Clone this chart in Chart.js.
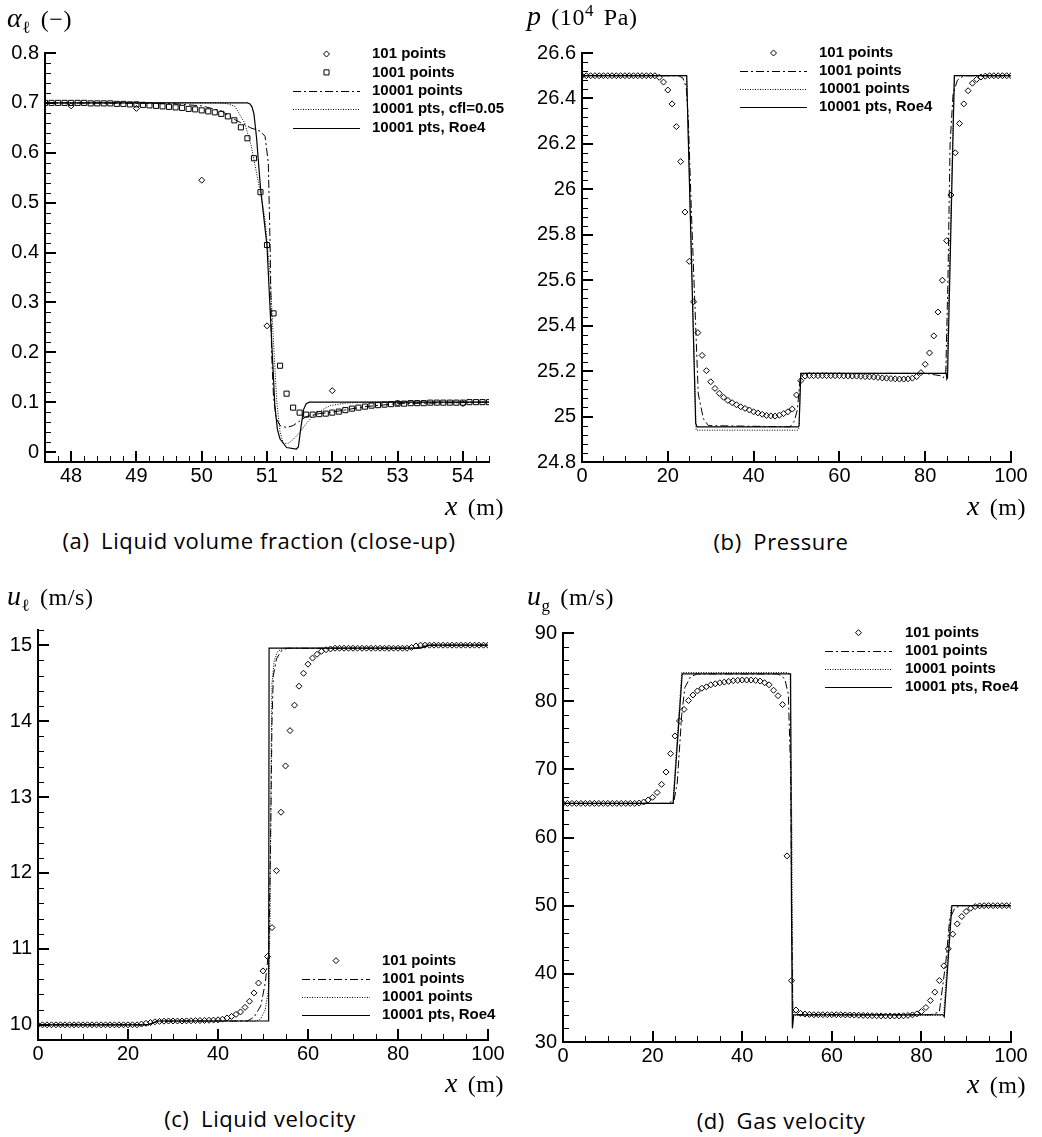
<!DOCTYPE html>
<html>
<head>
<meta charset="utf-8">
<script src="https://cdn.jsdelivr.net/npm/chart.js@4.4.1/dist/chart.umd.min.js"></script>
<style>
  body { margin: 0; background: #fff; width: 1042px; height: 1137px; position: relative; overflow: hidden; }
  canvas { position: absolute; }
  .t { position: absolute; white-space: nowrap; color: #000; line-height: 1; }
  .m { font-family: "Liberation Serif", "DejaVu Serif", serif; font-size: 24px; letter-spacing: 0.6px; word-spacing: 3px; }
  .m .v { font-style: italic; font-size: 28px; line-height: 0; }
  .m sub, .m sup { font-size: 17px; line-height: 0; }
  .cap { font-family: "Open Sans", "Noto Sans", sans-serif; font-size: 22px; letter-spacing: 0.6px; width: 500px; text-align: center; }
  #note { position: absolute; left: 640px; top: 150px; font: 11px monospace; color: #c00; white-space: pre; }
</style>
</head>
<body>
<canvas id="chartA" width="521" height="500" style="left:0;top:0"></canvas>
<canvas id="chartB" width="521" height="500" style="left:521px;top:0"></canvas>
<canvas id="chartC" width="521" height="500" style="left:0;top:580px"></canvas>
<canvas id="chartD" width="521" height="500" style="left:521px;top:580px"></canvas>
<div id="note"></div>

<div class="t m" style="left:7px;top:7px"><span class="v">α</span><sub>ℓ</sub> (−)</div>
<div class="t m" style="left:527px;top:5px"><span class="v">p</span> (10<sup>4</sup> Pa)</div>
<div class="t m" style="left:7px;top:585px"><span class="v">u</span><sub>ℓ</sub> (m/s)</div>
<div class="t m" style="left:527px;top:585px"><span class="v">u</span><sub>g</sub> (m/s)</div>

<div class="t m" style="left:445px;top:495px"><span class="v">x</span> (m)</div>
<div class="t m" style="left:967px;top:495px"><span class="v">x</span> (m)</div>
<div class="t m" style="left:445px;top:1072px"><span class="v">x</span> (m)</div>
<div class="t m" style="left:967px;top:1073px"><span class="v">x</span> (m)</div>

<div class="t cap" style="left:9px;top:529px">(a)&ensp;Liquid volume fraction (close-up)</div>
<div class="t cap" style="left:531px;top:530px">(b)&ensp;Pressure</div>
<div class="t cap" style="left:10px;top:1107px">(c)&ensp;Liquid velocity</div>
<div class="t cap" style="left:531px;top:1109px">(d)&ensp;Gas velocity</div>

<script>
// ---- shared x grid for the 101-point runs ----
const x101 = [0,1,2,3,4,5,6,7,8,9,10,11,12,13,14,15,16,17,18,19,20,21,22,23,24,25,26,27,28,29,30,31,32,33,34,35,36,37,38,39,40,41,42,43,44,45,46,47,48,49,50,51,52,53,54,55,56,57,58,59,60,61,62,63,64,65,66,67,68,69,70,71,72,73,74,75,76,77,78,79,80,81,82,83,84,85,86,87,88,89,90,91,92,93,94,95,96,97,98,99,100];

// ---- (a) liquid volume fraction, close-up ----
const aX101 = [48, 49, 50, 51, 52, 53, 54];
const aY101 = [0.694, 0.689, 0.545, 0.253, 0.123, 0.098, 0.097];
const aX1001 = [47.6,47.7,47.8,47.9,48.0,48.1,48.2,48.3,48.4,48.5,48.6,48.7,48.8,48.9,49.0,49.1,49.2,49.3,49.4,49.5,49.6,49.7,49.8,49.9,50.0,50.1,50.2,50.3,50.4,50.5,50.6,50.7,50.8,50.9,51.0,51.1,51.2,51.3,51.4,51.5,51.6,51.7,51.8,51.9,52.0,52.1,52.2,52.3,52.4,52.5,52.6,52.7,52.8,52.9,53.0,53.1,53.2,53.3,53.4,53.5,53.6,53.7,53.8,53.9,54.0,54.1,54.2,54.3,54.4];
const aY1001 = [0.700,0.700,0.700,0.700,
  0.700,0.700,0.700,0.699,0.699,0.699,0.699,0.698,0.698,0.697,
  0.697,0.696,0.695,0.694,0.693,0.692,0.691,0.690,0.688,0.687,
  0.685,0.683,0.681,0.678,0.673,0.665,0.651,0.629,0.589,0.521,
  0.415,0.278,0.173,0.117,0.089,0.079,0.075,0.075,0.076,0.077,
  0.079,0.081,0.084,0.087,0.089,0.091,0.093,0.094,0.095,0.096,
  0.097,0.097,0.098,0.098,0.098,0.099,0.099,0.099,0.099,0.099,
  0.099,0.100,0.100,0.100,0.100];
const aFineX = [47.6, 49.5, 50.0, 50.3, 50.5, 50.6, 50.75, 50.9, 50.97, 51.02, 51.05, 51.07, 51.1, 51.14, 51.2, 51.3, 51.4, 51.5, 51.6, 51.8, 52.0, 52.5, 53.0, 54.4];
const aFineY = [0.700, 0.699, 0.694, 0.684, 0.667, 0.660, 0.650, 0.643, 0.633, 0.580, 0.400, 0.200, 0.110, 0.068, 0.053, 0.049, 0.053, 0.062, 0.071, 0.077, 0.080, 0.091, 0.097, 0.100];
const aCflX = [47.6, 50.3, 50.4, 50.51, 50.66, 50.76, 50.84, 50.92, 50.97, 51.05, 51.1, 51.15, 51.2, 51.25, 51.32, 51.4, 51.5, 51.6, 51.71, 51.85, 51.97, 52.2, 52.5, 54.4];
const aCflY = [0.700, 0.700, 0.698, 0.693, 0.659, 0.613, 0.559, 0.506, 0.466, 0.350, 0.220, 0.100, 0.040, 0.018, 0.017, 0.025, 0.039, 0.057, 0.073, 0.085, 0.093, 0.098, 0.100, 0.100];
const aRoeX = [47.6, 50.70, 50.74, 50.77, 50.80, 50.84, 50.9, 51.0, 51.07, 51.12, 51.16, 51.2, 51.3, 51.45, 51.48, 51.52, 51.56, 51.6, 51.65, 54.4];
const aRoeY = [0.700, 0.700, 0.698, 0.692, 0.678, 0.630, 0.530, 0.413, 0.226, 0.093, 0.045, 0.026, 0.009, 0.006, 0.010, 0.050, 0.085, 0.097, 0.100, 0.100];
const aXTicks = [48, 49, 50, 51, 52, 53, 54];
const aYTicks = [0, 0.1, 0.2, 0.3, 0.4, 0.5, 0.6, 0.7, 0.8];

// ---- (b) pressure, 10^4 Pa ----
const bP101 = [26.5,26.5,26.5,26.5,26.5,26.5,26.5,26.5,26.5,26.5,
  26.5,26.5,26.5,26.5,26.5,26.5,26.5,26.5,26.493,26.472,
  26.437,26.376,26.276,26.122,25.900,25.683,25.505,25.369,25.269,25.202,
  25.153,25.124,25.102,25.085,25.071,25.061,25.052,25.043,25.036,25.029,
  25.021,25.016,25.010,25.005,25.003,25.002,25.006,25.013,25.021,25.033,
  25.095,25.158,25.178,25.180,25.180,25.180,25.180,25.180,25.180,25.180,
  25.180,25.179,25.179,25.178,25.178,25.177,25.176,25.175,25.174,25.172,
  25.170,25.169,25.167,25.166,25.165,25.165,25.166,25.169,25.176,25.193,
  25.230,25.280,25.355,25.460,25.600,25.774,25.975,26.161,26.290,26.376,
  26.434,26.467,26.484,26.494,26.498,26.5,26.5,26.5,26.5,26.5,
  26.5];
const b1001X = [0, 22.5, 23.5, 24.3, 24.8, 25.5, 26.5, 27.1, 28.3, 29.5, 48.5, 49.5, 50.2, 50.8, 51.3, 80, 83.5, 84.2, 84.8, 85.3, 85.8, 86.5, 87.5, 89, 100];
const b1001Y = [26.5, 26.5, 26.49, 26.45, 26.3, 25.9, 25.4, 25.1, 24.99, 24.96, 24.955, 24.98, 25.03, 25.16, 25.19, 25.19, 25.18, 25.17, 25.2, 25.6, 26.2, 26.42, 26.48, 26.5, 26.5];
const b10001X = [0, 24.4, 26.6, 50.3, 50.6, 51.0, 84.8, 85.0, 86.8, 100];
const b10001Y = [26.5, 26.5, 24.94, 24.94, 24.95, 25.19, 25.19, 25.18, 26.5, 26.5];
const bRoeX = [0, 24.4, 26.5, 26.8, 50.4, 50.6, 51.0, 84.9, 85.05, 85.2, 86.8, 100];
const bRoeY = [26.5, 26.5, 24.97, 24.955, 24.955, 24.96, 25.19, 25.19, 25.165, 25.17, 26.5, 26.5];
const bXTicks = [0, 20, 40, 60, 80, 100];
const bYTicks = [24.8, 25, 25.2, 25.4, 25.6, 25.8, 26, 26.2, 26.4, 26.6];

// ---- (c) liquid velocity, m/s ----
const cU101 = [10,10,10,10,10,10,10,10,10,10,
  10,10,10,10,10,10,10,10,10,10,
  10,10,10,10.01,10.02,10.03,10.04,10.045,10.048,10.05,
  10.05,10.05,10.05,10.052,10.053,10.055,10.056,10.058,10.06,10.063,
  10.066,10.074,10.09,10.11,10.137,10.17,10.23,10.31,10.42,10.55,
  10.71,10.90,11.28,12.03,12.80,13.41,13.875,14.21,14.46,14.63,
  14.75,14.83,14.88,14.92,14.94,14.95,14.96,14.96,14.96,14.96,
  14.96,14.96,14.96,14.96,14.96,14.96,14.96,14.96,14.96,14.96,
  14.96,14.96,14.96,14.97,14.99,15,15,15,15,15,
  15,15,15,15,15,15,15,15,15,15,
  15];
const c1001X = [0, 24, 27, 46.5, 48, 49.5, 50.5, 51.3, 51.7, 52.0, 52.3, 53, 54, 55.3, 84, 86, 88, 100];
const c1001Y = [10, 10, 10.05, 10.05, 10.1, 10.25, 10.55, 11.0, 12.5, 14.0, 14.6, 14.82, 14.92, 14.96, 14.96, 14.99, 15, 15];
const c10001X = [0, 24.5, 26.5, 48.5, 49.5, 50.5, 51.3, 51.6, 51.8, 52.0, 52.5, 53.3, 54.5, 85, 87, 100];
const c10001Y = [10, 10, 10.05, 10.05, 10.08, 10.2, 10.5, 11.5, 13.5, 14.5, 14.8, 14.92, 14.96, 14.96, 15, 15];
const cRoeX = [0, 24.5, 26.5, 51.25, 51.35, 85, 86.8, 100];
const cRoeY = [10, 10, 10.05, 10.05, 14.96, 14.96, 15, 15];
const cXTicks = [0, 20, 40, 60, 80, 100];
const cYTicks = [10, 11, 12, 13, 14, 15];

// ---- (d) gas velocity, m/s ----
const dU101 = [65,65,65,65,65,65,65,65,65,65,
  65,65,65,65,65,65,65,65.05,65.2,65.5,
  65.9,66.6,67.8,69.6,72.3,74.9,77.1,78.8,80.1,80.9,
  81.5,81.9,82.1,82.4,82.55,82.7,82.8,82.9,83.0,83.05,
  83.1,83.1,83.1,83.05,82.95,82.7,82.4,81.6,80.8,79.5,
  57.3,39.0,34.7,34.2,34.1,34.05,34.0,34.0,34.0,34.0,
  34.0,34.0,34.0,33.98,33.97,33.95,33.93,33.9,33.88,33.86,
  33.85,33.83,33.82,33.82,33.82,33.83,33.85,33.9,33.98,34.13,
  34.47,35.06,36.09,37.31,39.02,41.17,43.67,45.82,47.33,48.41,
  49.15,49.63,49.87,49.97,50,50,50,50,50,50,
  50];
const d1001X = [0, 23.5, 24.8, 25.5, 26.5, 27.2, 28.5, 30, 48, 49.5, 50.3, 50.8, 51.1, 51.3, 52, 82, 84, 85.5, 86.3, 87.5, 89, 100];
const d1001Y = [65, 65, 65.5, 68, 78, 82, 83.6, 84, 84, 83.3, 81, 70, 45, 34.5, 34, 34, 34.4, 42, 48, 49.7, 50, 50];
const d10001X = [0, 24.5, 26.5, 50, 50.7, 51.1, 51.3, 52, 84.5, 85, 86.6, 87, 100];
const d10001Y = [65, 65, 84.2, 84.2, 84, 60, 34, 33.9, 33.9, 34.3, 49.7, 50, 50];
const dRoeX = [0, 24.6, 26.6, 50.8, 51.0, 51.2, 51.5, 84.8, 85.1, 86.8, 100];
const dRoeY = [65, 65, 84, 84, 50, 32, 34, 34, 33.7, 50, 50];
const dXTicks = [0, 20, 40, 60, 80, 100];
const dYTicks = [30, 40, 50, 60, 70, 80, 90];

const tickFont = { family: '"Liberation Sans", Arial, sans-serif', size: 20 };
const DASHDOT = [8, 3, 2, 3];
const DOTTED = [1, 1.5];

function pairs(xs, ys) {
  return xs.map((x, i) => ({ x: x, y: ys[i] }));
}

function markers(label, xs, ys, style, r) {
  return {
    label: label, data: pairs(xs, ys), showLine: false,
    pointStyle: style, pointRadius: r, pointBorderWidth: 1,
    pointBorderColor: '#000', pointBackgroundColor: 'rgba(0,0,0,0)',
    borderColor: '#000', backgroundColor: 'rgba(0,0,0,0)'
  };
}

function curve(label, xs, ys, dash, w) {
  return {
    label: label, data: pairs(xs, ys), showLine: true, tension: 0,
    borderColor: '#000', borderWidth: w, borderDash: dash,
    pointRadius: 0, fill: false
  };
}

// legend rows: symbol or line sample, then bold label
const boxLegend = {
  id: 'boxLegend',
  afterDraw(chart, args, o) {
    const ctx = chart.ctx;
    ctx.save();
    ctx.font = 'bold 15px "Liberation Sans", Arial, sans-serif';
    ctx.textBaseline = 'middle';
    ctx.fillStyle = '#000';
    ctx.strokeStyle = '#000';
    chart.data.datasets.forEach((ds, i) => {
      const y = o.top + i * o.gap;
      const cx = (o.x0 + o.x1) / 2;
      if (ds.showLine) {
        ctx.lineWidth = ds.borderWidth;
        ctx.setLineDash(ds.borderDash || []);
        ctx.beginPath();
        ctx.moveTo(o.x0, Math.round(y) + 0.5);
        ctx.lineTo(o.x1, Math.round(y) + 0.5);
        ctx.stroke();
        ctx.setLineDash([]);
      } else {
        ctx.lineWidth = 1;
        ctx.beginPath();
        if (ds.pointStyle === 'rectRot') {
          const r = ds.pointRadius;
          ctx.moveTo(cx, y - r); ctx.lineTo(cx + r, y); ctx.lineTo(cx, y + r); ctx.lineTo(cx - r, y);
          ctx.closePath();
        } else {
          const h = ds.pointRadius * Math.SQRT1_2;
          ctx.rect(cx - h, y - h, 2 * h, 2 * h);
        }
        ctx.stroke();
      }
      ctx.fillText(ds.label, o.textX, y);
    });
    ctx.restore();
  }
};

// inward tick marks: 10 px majors at the labelled ticks, 5 px minors every step
function inwardTicks(minor) {
  return {
    id: 'inwardTicks',
    afterDraw(chart) {
      const ctx = chart.ctx;
      const a = chart.chartArea;
      const sx = chart.scales.x, sy = chart.scales.y;
      const bottom = Math.round(a.bottom), left = Math.round(a.left);
      ctx.save();
      ctx.fillStyle = '#000';
      for (let k = Math.ceil(sx.min / minor[0] - 1e-6); k <= Math.floor(sx.max / minor[0] + 1e-6); k++) {
        ctx.fillRect(Math.round(sx.getPixelForValue(k * minor[0])), bottom - 6, 1, 6);
      }
      for (let k = Math.ceil(sy.min / minor[1] - 1e-6); k <= Math.floor(sy.max / minor[1] + 1e-6); k++) {
        ctx.fillRect(left, Math.round(sy.getPixelForValue(k * minor[1])), 6, 1);
      }
      sx.ticks.forEach(t => ctx.fillRect(Math.round(sx.getPixelForValue(t.value)) - 1, bottom - 11, 2, 11));
      sy.ticks.forEach(t => ctx.fillRect(left, Math.round(sy.getPixelForValue(t.value)) - 1, 11, 2));
      ctx.restore();
    }
  };
}

function axis(range, majors, dir, size) {
  return {
    type: 'linear', min: range[0], max: range[1],
    grid: { display: false, drawTicks: false },
    border: { display: true, color: '#000', width: 2 },
    ticks: {
      color: '#000', font: tickFont, padding: dir === 'x' ? 2 : 6,
      autoSkip: false, maxRotation: 0, callback: v => String(v)
    },
    afterBuildTicks: s => { s.ticks = majors.map(v => ({ value: v })); },
    afterFit: s => { if (dir === 'x') s.height = size; else s.width = size; }
  };
}

const charts = [];
function panel(id, p) {
  const chart = new Chart(document.getElementById(id), {
    type: 'scatter',
    data: { datasets: p.datasets },
    plugins: [inwardTicks(p.minor), boxLegend],
    options: {
      responsive: false, animation: false, devicePixelRatio: 1, events: [],
      layout: { padding: p.pad },
      plugins: {
        legend: { display: false }, tooltip: { enabled: false },
        boxLegend: p.legend
      },
      scales: {
        x: axis(p.xRange, p.xTicks, 'x', 38),
        y: axis(p.yRange, p.yTicks, 'y', p.yw)
      }
    }
  });
  charts.push(chart);
  return chart;
}

panel('chartA', {
  datasets: [
    markers('101 points', aX101, aY101, 'rectRot', 3),
    markers('1001 points', aX1001, aY1001, 'rect', 3.6),
    curve('10001 points', aFineX, aFineY, DASHDOT, 1),
    curve('10001 pts, cfl=0.05', aCflX, aCflY, DOTTED, 1),
    curve('10001 pts, Roe4', aRoeX, aRoeY, [], 1.2)
  ],
  pad: { left: 0, top: 53, right: 32, bottom: 0 }, yw: 45,
  xRange: [47.6, 54.4], yRange: [-0.02, 0.8], xTicks: aXTicks, yTicks: aYTicks,
  minor: [0.2, 0.02],
  legend: { x0: 293, x1: 360, textX: 372, top: 54, gap: 18.4 }
});

panel('chartB', {
  datasets: [
    markers('101 points', x101, bP101, 'rectRot', 3),
    curve('1001 points', b1001X, b1001Y, DASHDOT, 1),
    curve('10001 points', b10001X, b10001Y, DOTTED, 1),
    curve('10001 pts, Roe4', bRoeX, bRoeY, [], 1.2)
  ],
  pad: { left: 0, top: 53, right: 31, bottom: 0 }, yw: 61,
  xRange: [0, 100], yRange: [24.8, 26.6], xTicks: bXTicks, yTicks: bYTicks,
  minor: [5, 0.04],
  legend: { x0: 219, x1: 286, textX: 298, top: 53, gap: 18 }
});

panel('chartC', {
  datasets: [
    markers('101 points', x101, cU101, 'rectRot', 3),
    curve('1001 points', c1001X, c1001Y, DASHDOT, 1),
    curve('10001 points', c10001X, c10001Y, DOTTED, 1),
    curve('10001 pts, Roe4', cRoeX, cRoeY, [], 1.2)
  ],
  pad: { left: 0, top: 50, right: 33, bottom: 2 }, yw: 38,
  xRange: [0, 100], yRange: [9.8, 15.2], xTicks: cXTicks, yTicks: cYTicks,
  minor: [5, 0.2],
  legend: { x0: 302, x1: 370, textX: 382, top: 380.7, gap: 18.1 }
});

panel('chartD', {
  datasets: [
    markers('101 points', x101, dU101, 'rectRot', 3),
    curve('1001 points', d1001X, d1001Y, DASHDOT, 1),
    curve('10001 points', d10001X, d10001Y, DOTTED, 1),
    curve('10001 pts, Roe4', dRoeX, dRoeY, [], 1.2)
  ],
  pad: { left: 0, top: 53, right: 31, bottom: 0 }, yw: 42,
  xRange: [0, 100], yRange: [30, 90], xTicks: dXTicks, yTicks: dYTicks,
  minor: [5, 2],
  legend: { x0: 304, x1: 371, textX: 384, top: 52.7, gap: 18.1 }
});

// self-check: report only if a major tick pixel did not end up dark
(function () {
  const lines = [];
  charts.forEach(ch => {
    const a = ch.chartArea, sx = ch.scales.x;
    const px = Math.round(sx.getPixelForValue(sx.ticks[1].value));
    const d = ch.ctx.getImageData(px, Math.round(a.bottom) - 7, 1, 1).data;
    if (d[3] < 100) lines.push(ch.canvas.id + ' px=' + px + ' b=' + a.bottom + ' rgba=' + Array.from(d).join(','));
  });
  document.getElementById('note').textContent = lines.join('\n');
})();
</script>
</body>
</html>
